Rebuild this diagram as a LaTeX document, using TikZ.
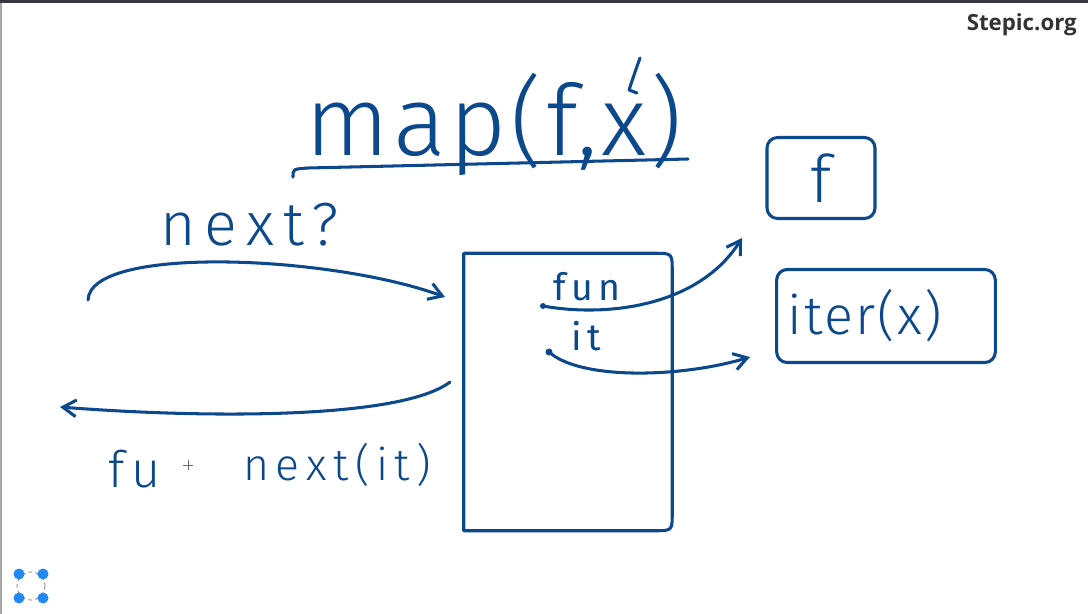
\documentclass[tikz,border=0pt]{standalone}
\usepackage{fontspec}
\setmainfont{Open Sans}
\IfFontExistsTF{Fira Sans Light}{\def\lightfile{Fira Sans Light}}{\def\lightfile{Fira Sans}}
\newfontfamily\titlehand[LetterSpace=4]{\lightfile}
\newfontfamily\hand[LetterSpace=15]{\lightfile}
\newfontfamily\smallhand[LetterSpace=15]{Fira Sans}
\usetikzlibrary{arrows.meta,calc,positioning}
\definecolor{ink}{RGB}{12,72,140}
\definecolor{dotblue}{RGB}{33,136,245}
\definecolor{barbg}{RGB}{56,56,68}
\tikzset{
  pen/.style={draw=ink, line width=2.6pt, line cap=round, line join=round},
  hand/.style={pen, -{Straight Barb[length=4mm,width=5mm]}},
  script/.style={text=ink, inner sep=0pt, font=\hand\fontsize{#1}{#1}\selectfont},
  box/.style={draw=ink, line width=2.6pt, rounded corners=9pt, text=ink, inner sep=0pt},
}

\begin{document}
\begin{tikzpicture}[x=0.03cm,y=-0.03cm]
\useasboundingbox (0,0) rectangle (1088,614);
\fill[white] (0,0) rectangle (1088,614);
\fill[barbg] (0,0) rectangle (1088,3);
\fill[gray!70] (0,3) rectangle (2,614);
\node[anchor=base east, inner sep=0pt, text=black!80,
  font=\bfseries\fontsize{19}{19}\selectfont] (site) at (1077,30) {Stepic.org};

% title
\node[script=84, font=\titlehand\fontsize{84}{84}\selectfont, anchor=base west] (title) at (305,155) {map(f,x)};
\draw[pen] (293,177) .. controls (293,169) .. (308,168) -- (688,159);
\draw[pen] (640,58) .. controls (635,72) .. (629,90) -- (637,93);

% the map object
\node[minimum width=6.24cm, minimum height=8.31cm, inner sep=0pt] (obj) at (568,392) {};
\draw[pen] (obj.south west) -- (obj.north west)
  -- ($(obj.north east)+(-18,0)$) .. controls (obj.north east) .. ($(obj.north east)+(0,18)$)
  -- ($(obj.south east)+(0,-18)$) .. controls (obj.south east) .. ($(obj.south east)+(-18,0)$)
  -- cycle;
\node[script=32, font=\smallhand\fontsize{32}{32}\selectfont, anchor=base west] (fun) at (553,300) {fun};
\node[script=32, font=\smallhand\fontsize{32}{32}\selectfont, anchor=base west] (it) at (571,350) {it};
\coordinate (funS) at (543,306);
\coordinate (itS) at (549,352);
\fill[ink] (funS) circle (3);
\fill[ink] (itS) circle (3.5);

% what it keeps
\node[box, minimum width=3.24cm, minimum height=2.43cm,
  font=\titlehand\fontsize{56}{56}\selectfont] (fbox) at (821,178) {f};
\node[box, text width=5.9cm, align=left, inner xsep=0.33cm, minimum height=2.79cm,
  font=\titlehand\fontsize{46}{46}\selectfont] (ibox) at (886,316) {iter(x)};
\coordinate (funE) at (742,238);
\coordinate (itE) at (750,357);
\draw[hand] (funS) .. controls (610,318) and (700,305) .. (funE);
\draw[hand] (itS) .. controls (580,380) and (680,378) .. (itE);

% asking and answering
\node[script=52, anchor=base west] (ask) at (160,245) {next?};
\coordinate (nextS) at (88,300);
\coordinate (nextE) at (445,297);
\draw[hand] (nextS) .. controls (90,245) and (330,255) .. (nextE);
\coordinate (backS) at (450,382);
\coordinate (backE) at (60,407);
\draw[hand] (backS) .. controls (400,420) and (200,418) .. (backE);
\node[script=43, anchor=base west] (fu) at (108,487) {fu};
\node[script=38, anchor=base west] (call) at (243,480) {next(it)};
\draw[black!60, line width=0.6pt] (183,465) -- (193,465) (188,460) -- (188,470);

% corner icon
\draw[black!60, line width=0.6pt, dashed] (31,586) circle (14);
\foreach \x/\y in {19/574, 43/574, 19/598, 43/598}
  \fill[dotblue] (\x,\y) circle (5.5);
\end{tikzpicture}
\end{document}
